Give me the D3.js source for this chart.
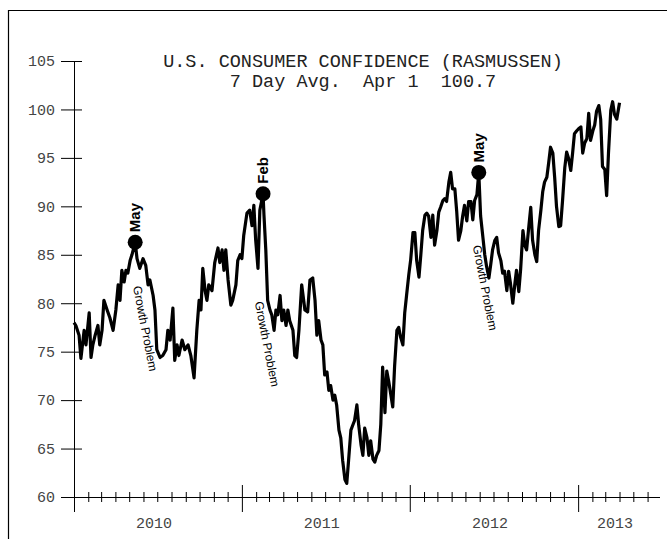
<!DOCTYPE html>
<html>
<head>
<meta charset="utf-8">
<script src="https://cdn.jsdelivr.net/npm/d3@7"></script>
<style>
  body { margin: 0; background: #fff; }
  svg { display: block; }
</style>
</head>
<body>
<div id="chart"></div>
<script>
// data: days after 2010-01-01 and the 7 day average index
var startDate = new Date(2010, 0, 1);
var endDate = new Date(2013, 5, 28);

var days2010 = [0,4,11,15,22,26,33,37,41,46,52,56,61,65,72,78,85,91,96,100,
  104,109,113,117,122,126,133,137,143,150,156,161,165,172,176,180,187,193,200,204,
  209,215,219,224,228,235,241,248,254,261,267,272,276,280,285,289,293,300,306,313,
  317,322,326,330,335,341,345,352,356,361,365];
var values2010 = [78.0,77.7,76.7,74.3,77.2,75.7,79.0,74.4,75.7,76.7,
  77.7,75.7,77.2,80.3,79.3,78.5,77.2,79.3,81.9,80.3,
  83.4,82.2,83.4,83.1,84.4,85.0,86.3,84.6,83.6,84.6,
  83.9,81.9,82.4,80.8,79.3,75.2,74.4,74.6,75.2,77.2,
  76.2,79.5,74.1,75.7,74.6,76.2,75.2,75.7,74.6,72.3,
  77.2,80.3,79.3,83.6,81.3,80.3,81.9,81.3,84.2,85.7,
  84.2,85.5,83.4,85.5,82.4,79.8,80.3,81.9,84.4,85.0,84.6];

var days2011 = [369,376,382,387,391,395,400,404,411,413,417,421,426,430,435,439,443,448,452,456,
  461,465,469,476,480,484,489,495,502,508,513,519,524,528,532,537,541,545,550,554,
  558,563,567,571,576,580,584,589,593,597,602,606,610,615,619,624,628,632,637,641,
  645,650,654,658,663,667,671,676,680,684,689,693,697,702,706,710,715,719,723,728];
var values2011 = [87.0,89.3,89.6,88.0,90.1,86.5,83.6,89.6,91.3,89.1,
  85.5,80.3,79.3,78.8,77.2,79.3,78.8,80.8,78.2,79.3,
  77.7,79.3,78.2,77.2,74.6,74.4,77.2,81.9,79.3,79.1,
  82.4,82.6,80.3,76.7,78.2,76.2,75.7,72.6,72.9,71.0,
  71.5,70.0,70.5,69.5,66.9,66.1,63.8,61.8,61.4,63.8,
  66.9,67.4,67.9,69.5,67.4,65.4,64.3,67.1,66.1,64.3,
  65.8,63.9,63.6,64.3,64.8,67.5,73.4,68.7,73.0,72.0,
  70.5,69.3,73.5,77.2,77.5,76.5,75.7,79.0,80.8,83.0];

var days2012 = [732,737,741,745,750,754,758,763,767,771,776,780,784,789,793,797,802,806,810,815,
  819,823,828,832,836,841,845,849,854,858,863,867,871,876,880,884,889,893,897,902,
  906,910,915,919,923,928,932,936,941,945,949,954,958,962,967,971,976,980,984,989,
  993,997,1002,1006,1010,1015,1019,1023,1028,1032,1036,1041,1045,1049,1054,1058,1062,1067,1071,1075,
  1080,1084,1088,1093];
var values2012 = [84.5,87.3,87.3,84.4,82.7,85.0,87.5,89.1,89.3,89.0,
  86.8,89.1,86.0,87.5,89.4,89.9,90.6,90.8,90.5,92.5,
  93.5,91.8,91.8,89.5,86.5,87.5,89.0,90.1,88.5,90.5,
  90.5,88.6,90.6,91.2,93.5,89.0,86.8,85.0,83.8,82.6,
  84.0,85.5,86.5,86.8,85.2,84.4,83.1,83.3,81.3,83.3,
  82.0,80.0,81.8,83.4,81.2,83.5,87.5,86.0,85.5,88.0,
  89.9,86.5,85.0,84.3,87.5,89.6,91.5,92.5,93.0,94.5,
  96.1,95.5,93.0,90.0,87.9,88.0,90.5,94.0,95.6,95.0,
  93.7,95.5,97.5,97.8];

var days2013 = [1097,1102,1106,1110,1115,1119,1123,1128,1132,1136,1141,1145,1149,1154,1158,1162,1167,1171,1175,1180,1186];
var values2013 = [98.0,98.2,95.5,96.5,97.0,99.6,96.8,97.8,98.4,99.8,
  100.4,99.0,94.1,93.8,91.1,95.5,99.9,100.8,99.5,99.0,100.7];

var yTicks = [60,65,70,75,80,85,90,95,100,105];
var yearLabels = ["2010","2011","2012","2013"];

// annotations
var markerDays = [133, 411, 880];
var markerLabels = ["May", "Feb", "May"];
var noteDays = [128, 393, 867];
var noteValues = [81.7, 80.1, 85.9];
var noteText = "Growth Problem";

var titleText = "U.S. CONSUMER CONFIDENCE (RASMUSSEN)";
var subTitleText = "7 Day Avg.  Apr 1  100.7";

var w = 667;
var h = 539;
var mono = "'Courier New', 'Liberation Mono', monospace";
var sans = "Arial, 'Liberation Sans', sans-serif";

var days = days2010.concat(days2011, days2012, days2013);
var values = values2010.concat(values2011, values2012, values2013);
var data = days.map(function(d, i) {
  return { date: d3.timeDay.offset(startDate, d), value: values[i] };
});

var svg = d3.select("#chart")
            .append("svg")
            .attr("width", w)
            .attr("height", h);

// frame
svg.append("path")
   .attr("d", "M8.5," + h + "V10.5H" + w)
   .attr("fill", "none")
   .attr("stroke", "#000")
   .attr("stroke-width", 1.2);

var x = d3.scaleTime().domain([startDate, endDate]).range([74, 660]);
var y = d3.scaleLinear().domain([60, 105]).range([497, 61]);

// title
svg.append("text")
   .attr("x", 363).attr("y", 67)
   .attr("text-anchor", "middle")
   .style("font-family", mono).style("font-size", "18.5px")
   .style("white-space", "pre")
   .attr("fill", "#222")
   .text(titleText);
svg.append("text")
   .attr("x", 363).attr("y", 87)
   .attr("text-anchor", "middle")
   .style("font-family", mono).style("font-size", "18.5px")
   .style("white-space", "pre")
   .attr("fill", "#222")
   .text(subTitleText);

// y axis
var yAxis = svg.append("g")
   .attr("transform", "translate(74,0)")
   .call(d3.axisLeft(y).tickValues(yTicks).tickSize(13).tickPadding(6));
yAxis.select(".domain").remove();
yAxis.selectAll(".tick line").attr("x2", -13).attr("x1", 8).attr("stroke", "#000");
yAxis.selectAll(".tick text")
     .style("font-family", mono).style("font-size", "15px")
     .attr("fill", "#444");
svg.append("line")
   .attr("x1", 74.5).attr("x2", 74.5)
   .attr("y1", y(105)).attr("y2", 512)
   .attr("stroke", "#000");

// x axis
var xAxis = svg.append("g")
   .attr("transform", "translate(0," + y(60) + ")")
   .call(d3.axisBottom(x).ticks(d3.timeMonth.every(1)).tickFormat("").tickSize(5));
xAxis.select(".domain").remove();
xAxis.selectAll(".tick line")
     .attr("stroke", "#000")
     .attr("y1", function(d) { return d.getMonth() === 0 ? -12 : -5; })
     .attr("y2", function(d) { return d.getMonth() === 0 ? 15 : 5; });
svg.append("line")
   .attr("x1", 61).attr("x2", 660)
   .attr("y1", y(60) + 0.5).attr("y2", y(60) + 0.5)
   .attr("stroke", "#000");

svg.selectAll(".year")
   .data(yearLabels)
   .enter()
   .append("text")
   .attr("class", "year")
   .attr("x", function(d) {
     var a = x(new Date(+d, 0, 1));
     var b = Math.min(x(new Date(+d + 1, 0, 1)), 660);
     return (a + b) / 2 - 4;
   })
   .attr("y", 528)
   .attr("text-anchor", "middle")
   .style("font-family", mono).style("font-size", "15px")
   .attr("fill", "#444")
   .text(function(d) { return d; });

// line
var line = d3.line()
   .x(function(d) { return x(d.date); })
   .y(function(d) { return y(d.value); });

svg.append("path")
   .datum(data)
   .attr("d", line)
   .attr("fill", "none")
   .attr("stroke", "#000")
   .attr("stroke-width", 3.2)
   .attr("stroke-linejoin", "round");

// markers
var markers = markerDays.map(function(d, i) {
  var idx = days.indexOf(d);
  return { date: d3.timeDay.offset(startDate, d), value: values[idx], label: markerLabels[i] };
});

svg.selectAll(".marker")
   .data(markers)
   .enter()
   .append("circle")
   .attr("class", "marker")
   .attr("cx", function(d) { return x(d.date); })
   .attr("cy", function(d) { return y(d.value); })
   .attr("r", 7.5)
   .attr("fill", "#000");

svg.selectAll(".mlabel")
   .data(markers)
   .enter()
   .append("text")
   .attr("class", "mlabel")
   .attr("transform", function(d) {
     return "translate(" + (x(d.date) + 5) + "," + (y(d.value) - 10) + ") rotate(-90)";
   })
   .style("font-family", sans).style("font-size", "15px").style("font-weight", "bold")
   .attr("fill", "#000")
   .text(function(d) { return d.label; });

svg.selectAll(".note")
   .data(noteDays)
   .enter()
   .append("text")
   .attr("class", "note")
   .attr("transform", function(d, i) {
     return "translate(" + x(d3.timeDay.offset(startDate, d)) + "," + y(noteValues[i]) + ") rotate(79)";
   })
   .style("font-family", sans).style("font-size", "12px")
   .attr("fill", "#000")
   .text(noteText);
</script>
</body>
</html>
